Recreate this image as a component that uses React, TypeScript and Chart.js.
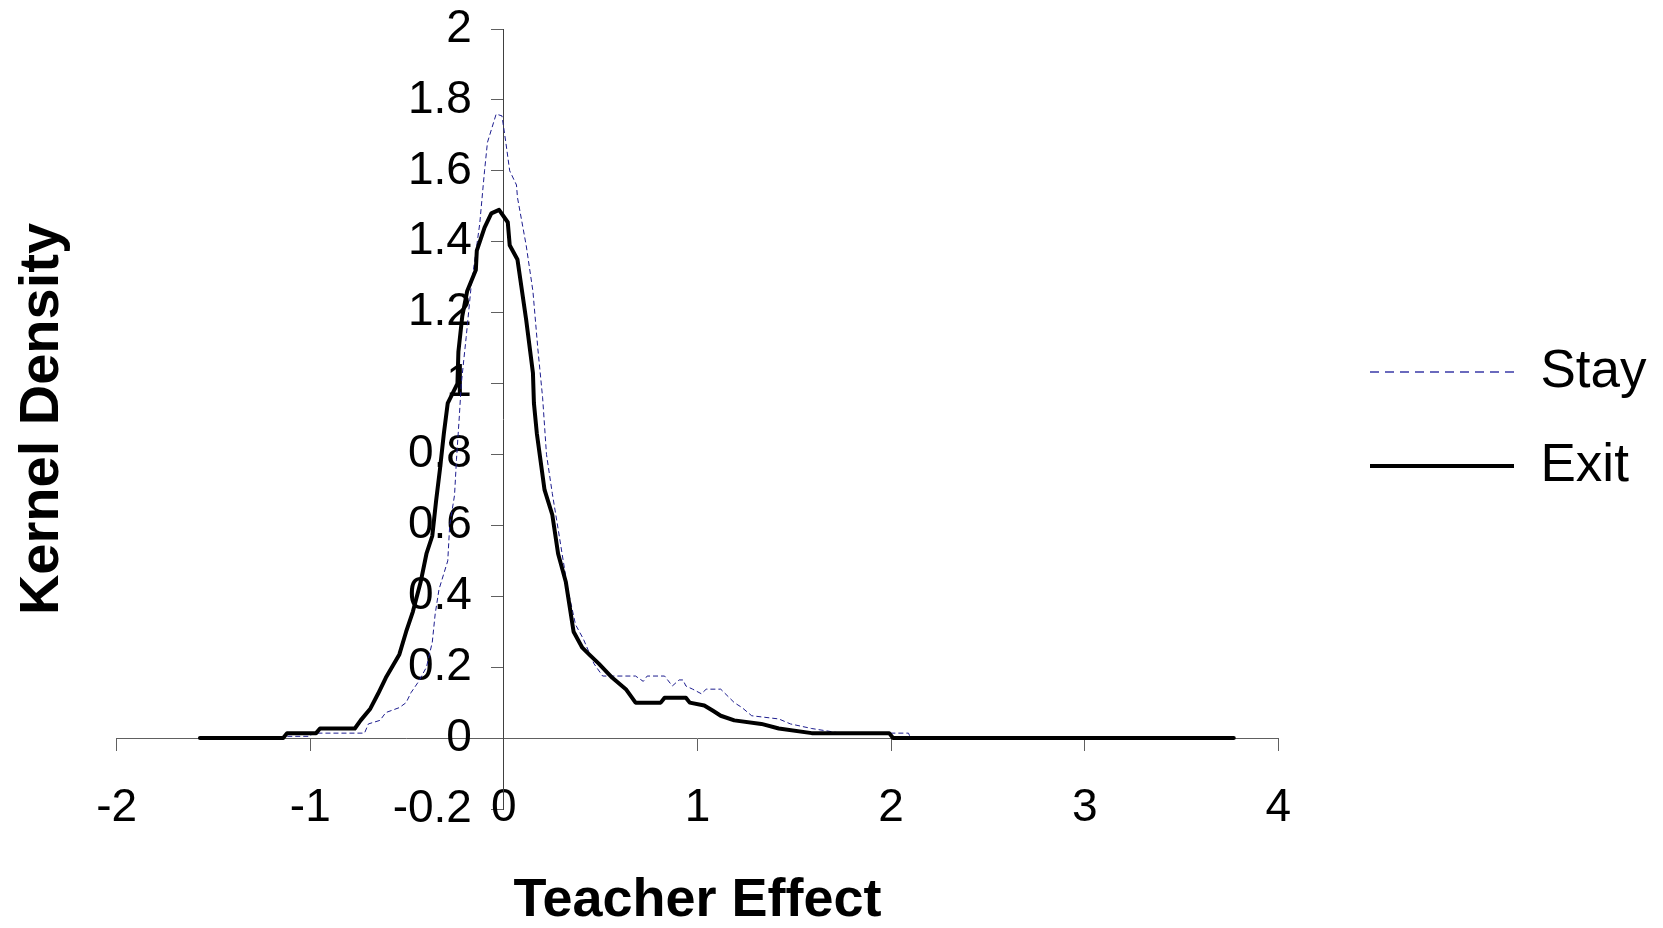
import React, { useEffect, useRef } from 'react';
import { Chart, registerables } from 'chart.js';

Chart.register(...registerables);

const SERIES_NAMES = ['Stay', 'Exit'];
const AXIS_TITLES = ['Teacher Effect', 'Kernel Density'];

const X_TICKS = [-2, -1, 0, 1, 2, 3, 4];
const X_TICK_LABELS = ['-2', '-1', '0', '1', '2', '3', '4'];
const Y_TICKS = [-0.2, 0, 0.2, 0.4, 0.6, 0.8, 1, 1.2, 1.4, 1.6, 1.8, 2];
const Y_TICK_LABELS = ['-0.2', '0', '0.2', '0.4', '0.6', '0.8', '1', '1.2', '1.4', '1.6', '1.8', '2'];

const STAY_X = [-1.57, -1.13, -1.12, -1.0, -0.99, -0.72, -0.7, -0.64, -0.61, -0.54, -0.505, -0.48, -0.44, -0.4, -0.37, -0.355, -0.335, -0.29, -0.28, -0.255, -0.245, -0.23, -0.22, -0.195, -0.17, -0.125, -0.1, -0.085, -0.04, -0.01, 0.01, 0.03, 0.065, 0.07, 0.115, 0.15, 0.175, 0.2, 0.22, 0.25, 0.28, 0.33, 0.37, 0.41, 0.465, 0.51, 0.68, 0.72, 0.74, 0.83, 0.87, 0.905, 0.925, 0.94, 0.975, 1.02, 1.045, 1.12, 1.19, 1.23, 1.28, 1.42, 1.48, 1.59, 1.74, 2.09, 2.1, 3.77];
const STAY_Y = [0, 0, 0.005, 0.005, 0.014, 0.014, 0.04, 0.05, 0.072, 0.086, 0.1, 0.128, 0.16, 0.2, 0.27, 0.35, 0.42, 0.5, 0.6, 0.685, 0.785, 0.91, 1.0, 1.13, 1.27, 1.45, 1.6, 1.68, 1.76, 1.755, 1.68, 1.6, 1.56, 1.525, 1.39, 1.26, 1.1, 0.96, 0.8, 0.69, 0.59, 0.42, 0.32, 0.28, 0.21, 0.175, 0.175, 0.16, 0.175, 0.175, 0.147, 0.164, 0.164, 0.147, 0.138, 0.125, 0.138, 0.138, 0.1, 0.086, 0.063, 0.054, 0.04, 0.027, 0.014, 0.014, 0, 0];

const EXIT_X = [-1.57, -1.14, -1.12, -0.97, -0.95, -0.77, -0.74, -0.69, -0.65, -0.61, -0.54, -0.505, -0.47, -0.43, -0.4, -0.37, -0.35, -0.33, -0.31, -0.29, -0.24, -0.235, -0.215, -0.19, -0.145, -0.14, -0.1, -0.065, -0.025, 0.02, 0.03, 0.07, 0.115, 0.15, 0.155, 0.17, 0.21, 0.25, 0.28, 0.32, 0.36, 0.405, 0.44, 0.49, 0.56, 0.63, 0.68, 0.81, 0.83, 0.94, 0.96, 1.035, 1.08, 1.12, 1.19, 1.33, 1.42, 1.59, 1.99, 2.01, 3.77];
const EXIT_Y = [0, 0, 0.014, 0.014, 0.027, 0.027, 0.05, 0.083, 0.125, 0.17, 0.236, 0.3, 0.357, 0.44, 0.52, 0.57, 0.67, 0.76, 0.86, 0.945, 1.0, 1.09, 1.19, 1.26, 1.32, 1.375, 1.44, 1.48, 1.49, 1.455, 1.39, 1.35, 1.18, 1.03, 0.945, 0.86, 0.7, 0.63, 0.52, 0.44, 0.3, 0.255, 0.236, 0.21, 0.17, 0.138, 0.1, 0.1, 0.114, 0.114, 0.1, 0.092, 0.077, 0.063, 0.05, 0.04, 0.027, 0.014, 0.014, 0, 0];

const FONT = 'Liberation Sans, Arial, sans-serif';
const Y_LABEL_GAP = 32;
const LEGEND_SHIFT = 50.7;

const excelLayoutPlugin = {
  id: 'excelLayout',
  afterLayout(chart: any) {
    const lg = chart.legend;
    if (lg) {
      lg.left += LEGEND_SHIFT;
      lg.right = chart.width;
      lg.width = lg.right - lg.left;
    }
  },
  beforeDraw(chart: any) {
    const ys = chart.scales.y;
    if (!ys) return;
    const items = ys.getLabelItems(chart.chartArea);
    if (items && !items.__shifted) {
      items.forEach((it: any) => {
        it.options.translation[0] -= Y_LABEL_GAP;
      });
      items.__shifted = true;
    }
  },
};

export default function App() {
  const ref = useRef<HTMLCanvasElement>(null);

  useEffect(() => {
    const canvas = ref.current;
    if (!canvas) return;
    const zip = (xs: number[], ys: number[]) => xs.map((x, i) => ({ x, y: ys[i] }));
    const chart = new Chart(canvas, {
      type: 'line',
      data: {
        datasets: [
          {
            label: SERIES_NAMES[0],
            data: zip(STAY_X, STAY_Y),
            borderColor: '#1c1c8e',
            backgroundColor: '#1c1c8e',
            borderWidth: 1,
            borderDash: [5, 3],
            pointRadius: 0,
            tension: 0,
            fill: false,
            order: 2,
          },
          {
            label: SERIES_NAMES[1],
            data: zip(EXIT_X, EXIT_Y),
            borderColor: '#000000',
            backgroundColor: '#000000',
            borderWidth: 4,
            borderJoinStyle: 'round',
            borderCapStyle: 'round',
            pointRadius: 0,
            tension: 0,
            fill: false,
            order: 1,
          },
        ],
      },
      options: {
        responsive: true,
        maintainAspectRatio: false,
        animation: false,
        events: [],
        layout: { padding: { left: 0, top: 29, right: 104.7, bottom: 0 } },
        scales: {
          x: {
            type: 'linear',
            min: -2,
            max: 4,
            position: { y: 0 },
            afterFit: (s: any) => { s.height = 0; },
            afterBuildTicks: (s: any) => { s.ticks = X_TICKS.map((v) => ({ value: v })); },
            grid: { display: true, drawOnChartArea: false, drawTicks: true, tickLength: 12, color: '#606060', lineWidth: 1 },
            border: { display: true, color: '#606060', width: 1 },
            ticks: {
              padding: 31,
              color: '#000',
              maxRotation: 0,
              autoSkip: false,
              font: { family: FONT, size: 46 },
              callback: (_v: any, i: number) => X_TICK_LABELS[i],
            },
          },
          y: {
            type: 'linear',
            min: -0.2,
            max: 2,
            position: { x: 0 },
            afterFit: (s: any) => { s.width = 0; },
            afterBuildTicks: (s: any) => { s.ticks = Y_TICKS.map((v) => ({ value: v })); },
            grid: { display: true, drawOnChartArea: false, drawTicks: true, tickLength: 12, color: '#606060', lineWidth: 1 },
            border: { display: true, color: '#404040', width: 1 },
            ticks: {
              padding: 0,
              color: '#000',
              autoSkip: false,
              font: { family: FONT, size: 46 },
              callback: (_v: any, i: number) => Y_TICK_LABELS[i],
            },
          },
        },
        plugins: {
          tooltip: { enabled: false },
          legend: {
            display: true,
            position: 'right',
            align: 'center',
            fullSize: false,
            maxWidth: 280,
            labels: {
              usePointStyle: true,
              pointStyle: 'line',
              pointStyleWidth: 144,
              padding: 41,
              color: '#000',
              font: { family: FONT, size: 53 },
              sort: (a: any, b: any) => a.datasetIndex - b.datasetIndex,
              generateLabels: (ch: any) => {
                const items = (Chart.defaults.plugins.legend.labels as any).generateLabels(ch);
                items.forEach((it: any) => {
                  if (it.datasetIndex === 0) {
                    it.lineDash = [9, 6];
                    it.lineWidth = 1.5;
                    it.strokeStyle = '#3a3aa8';
                  }
                });
                return items;
              },
            },
          },
          title: {
            display: true,
            text: AXIS_TITLES[0],
            position: 'bottom',
            fullSize: false,
            align: 'center',
            color: '#000',
            font: { family: FONT, size: 54, weight: 'bold', lineHeight: 1 },
            padding: { top: 65, bottom: 0 },
          },
          subtitle: {
            display: true,
            text: AXIS_TITLES[1],
            position: 'left',
            fullSize: false,
            align: 'center',
            color: '#000',
            font: { family: FONT, size: 56, weight: 'bold', lineHeight: 1.2 },
            padding: { top: 9.1, bottom: 40.4 },
          },
        },
      } as any,
      plugins: [excelLayoutPlugin],
    });
    return () => chart.destroy();
  }, []);

  return (
    <div style={{ position: 'fixed', left: 0, top: 0, width: 1663, height: 928, background: '#fff' }}>
      <canvas ref={ref} />
    </div>
  );
}
